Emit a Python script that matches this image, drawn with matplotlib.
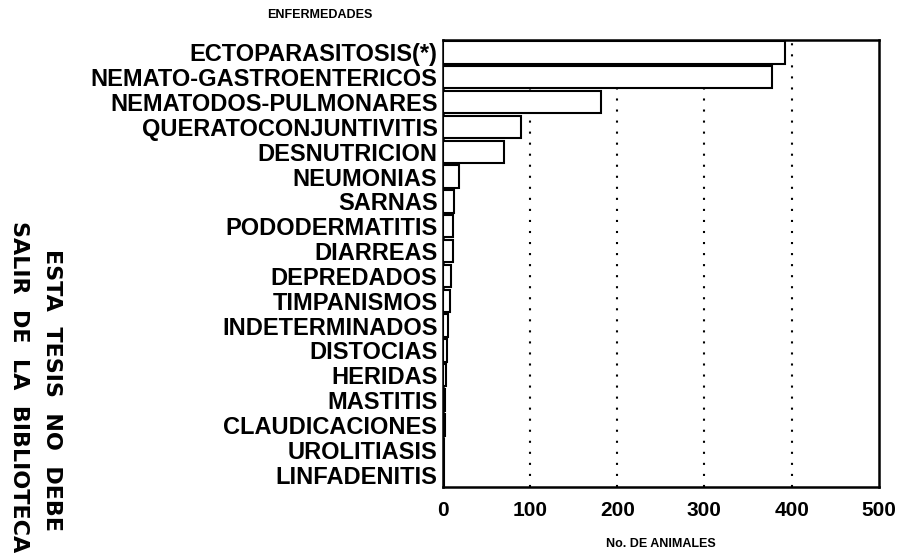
import matplotlib.pyplot as plt

enfermedades = ['ECTOPARASITOSIS(*)', 'NEMATO-GASTROENTERICOS', 'NEMATODOS-PULMONARES',
                'QUERATOCONJUNTIVITIS', 'DESNUTRICION', 'NEUMONIAS', 'SARNAS',
                'PODODERMATITIS', 'DIARREAS', 'DEPREDADOS', 'TIMPANISMOS',
                'INDETERMINADOS', 'DISTOCIAS', 'HERIDAS', 'MASTITIS',
                'CLAUDICACIONES', 'UROLITIASIS', 'LINFADENITIS']
animales = [392, 377, 181, 89, 70, 18, 13, 12, 11, 9, 8, 6, 5, 3, 2, 2, 1, 1]
xticks = [0, 100, 200, 300, 400, 500]

plt.rcParams['font.family'] = ['Liberation Sans', 'DejaVu Sans']

fig = plt.figure(figsize=(9.03, 5.53), dpi=100)
ax = fig.add_axes([0.4906, 0.1193, 0.4825, 0.8084])

pos = list(range(len(enfermedades)))
ax.barh(pos, animales, height=0.9, color='white', edgecolor='black',
        linewidth=1.5, zorder=3)

ax.set_ylim(len(enfermedades) - 0.5, -0.5)
ax.set_xlim(0, 500)
ax.set_yticks(pos)
ax.set_yticklabels(enfermedades, fontsize=17, fontweight='bold')
ax.set_xticks(xticks)
ax.set_xticklabels([str(t) for t in xticks], fontsize=15, fontweight='bold')
ax.tick_params(axis='both', length=0)
ax.tick_params(axis='y', pad=4)
ax.tick_params(axis='x', pad=10)

for t in xticks[1:-1]:
    ax.axvline(t, color='black', linewidth=1.5, linestyle=(0, (1, 4.3)), zorder=1)

for s in ax.spines.values():
    s.set_linewidth(1.8)
    s.set_color('black')

ax.set_xlabel('No. DE ANIMALES', fontsize=9, fontweight='bold', labelpad=13)
fig.text(0.296, 0.973, 'ENFERMEDADES', fontsize=9, fontweight='bold', va='center')

# sello lateral
sello = ['DejaVu Sans Condensed', 'DejaVu Sans']
fig.text(0.058, 0.295, 'ESTA  TESIS  NO  DEBE', rotation=-90, fontsize=16,
         fontweight='bold', family=sello, ha='center', va='center')
fig.text(0.021, 0.30, 'SALIR  DE  LA  BIBLIOTECA', rotation=-90, fontsize=16,
         fontweight='bold', family=sello, ha='center', va='center')

fig.savefig('out.png', dpi=100)
